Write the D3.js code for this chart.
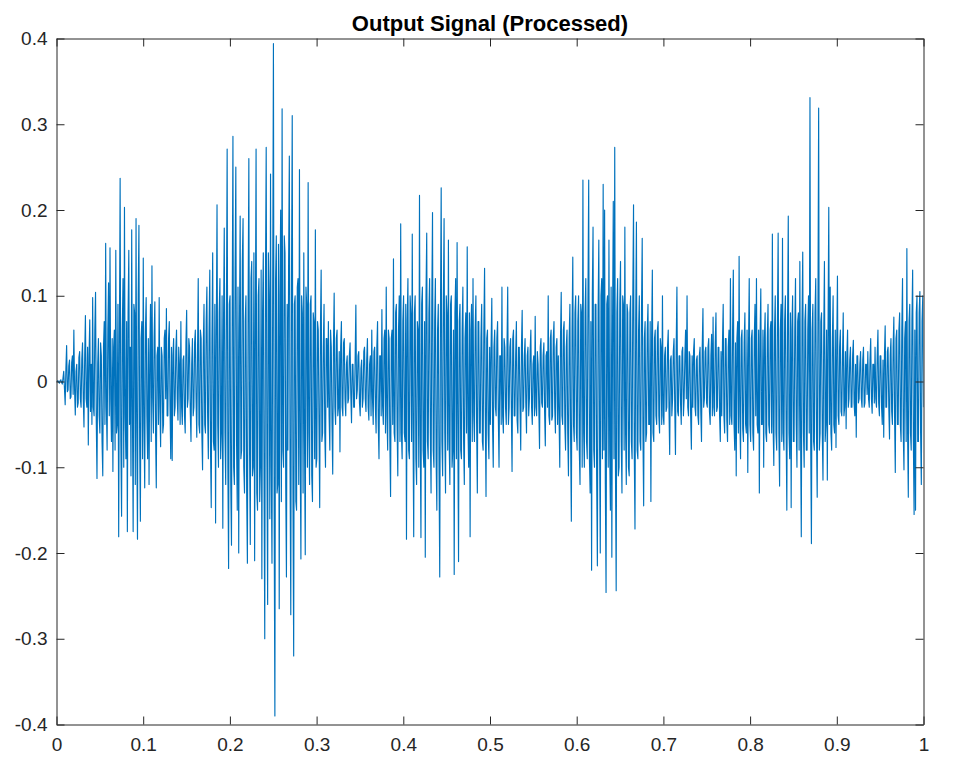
<!DOCTYPE html>
<html>
<head>
<meta charset="utf-8">
<script src="https://cdn.jsdelivr.net/npm/d3@7"></script>
<style>
  html, body { margin: 0; padding: 0; background: #fff; }
  svg { display: block; }
  text { font-family: "Liberation Sans", Arial, Helvetica, sans-serif; }
</style>
</head>
<body>
<div id="chart"></div>
<script>
// ---- data ----
const chartTitle = "Output Signal (Processed)";
const xTicks = [0, 0.1, 0.2, 0.3, 0.4, 0.5, 0.6, 0.7, 0.8, 0.9, 1];
const xTickLabels = ["0", "0.1", "0.2", "0.3", "0.4", "0.5", "0.6", "0.7", "0.8", "0.9", "1"];
const yTicks = [-0.4, -0.3, -0.2, -0.1, 0, 0.1, 0.2, 0.3, 0.4];
const yTickLabels = ["-0.4", "-0.3", "-0.2", "-0.1", "0", "0.1", "0.2", "0.3", "0.4"];
const timeStart = 0, timeEnd = 1;
// signal samples, evenly spaced from timeStart to timeEnd
const signal = [
  0,0, .001,-.001, -.002,.001, .002,-.001, -.003,.004, .012,-.008, -.027,.015, .042,-.012, -.01,.018, .025,-.02, -.018,.022, .03,-.015, .06,-.01, -.039,.012, .02,-.03, -.025,.028, .035,-.02, -.03,.026, .045,-.02, -.053,.03,
  .077,-.02, -.03,.04, -.074,.03, .072,-.035, .02,-.05, .098,-.03, -.04,.06, .104,-.045, -.113,.02, .05,-.04, -.06,.045, .03,-.07, -.11,.04, .07,-.05, .161,-.03, -.08,.06, .115,-.04, .156,-.02, -.07,.05, -.105,.04,
  .06,-.08, .153,-.06, -.05,.09, -.181,.05, .237,-.07, -.157,.06, .12,-.1, .203,-.04, -.09,.07, -.175,.08, .153,-.05, .04,-.11, .177,-.03, -.175,.09, .08,-.12, .19,-.06, -.184,.1, .182,-.07, -.163,.05, .07,-.09,
  .144,-.05, -.124,.06, .098,-.04, -.09,.05, -.12,.03, .09,-.07, .135,-.02, -.06,.05, .093,-.06, -.124,.03, .04,-.05, .098,-.03, -.076,.04, .03,-.06, -.05,.05, .06,-.02, .085,-.04, -.04,.05, .07,-.03, -.09,.04,
  -.092,.03, .05,-.04, -.03,.035, .06,-.02, -.045,.04, .02,-.05, .07,-.03, -.05,.025, .03,-.04, -.06,.045, .083,-.03, -.02,.05, .04,-.035, -.07,.02, .05,-.04, -.03,.045, .06,-.02, -.065,.03, .12,-.05, -.06,.06,
  .05,-.06, -.103,.04, .09,-.05, -.06,.07, .11,-.04, -.09,.06, .13,-.08, -.147,.05, .15,-.07, -.08,.09, -.165,.06, .206,-.05, -.1,.08, .12,-.09, -.06,.1, -.171,.07, .179,-.06, -.12,.08, .271,-.1, -.218,.09,
  .1,-.12, -.191,.08, .286,-.1, -.12,.13, .25,-.07, -.15,.11, -.2,.06, .193,-.09, -.08,.14, .19,-.1, -.13,.07, .1,-.13, -.212,.09, .26,-.08, -.19,.12, .14,-.11, -.1,.15, -.209,.06, .271,-.13, -.15,.1,
  .12,-.14, -.1,.13, -.23,.08, .15,-.11, -.30,.12, .273,-.09, -.26,.15, .1,-.16, .242,-.1, -.212,.11, .394,-.15, -.39,.12, .17,-.13, -.12,.16, -.265,.1, .2,-.14, .318,-.08, -.1,.17, .15,-.12, -.228,.09,
  -.08,.14, .263,-.1, -.272,.12, .31,-.13, -.32,.09, .1,-.14, -.15,.11, .12,-.12, .247,-.08, -.207,.1, .08,-.13, .15,-.07, -.202,.11, .09,-.1, .232,-.06, -.12,.09, .1,-.11, -.14,.08, .07,-.09, .177,-.1,
  -.09,.07, .06,-.05, -.147,.06, .13,-.07, -.06,.04, .09,-.06, -.1,.05, .05,-.03, .07,-.04, -.08,.06, .04,-.05, -.108,.04, .103,-.03, -.05,.05, .06,-.04, -.03,.035, -.082,.04, .07,-.03, -.04,.045, .05,-.02,
  -.04,.02, .03,-.025, -.02,.03, .045,-.015, -.048,.02, .02,-.03, -.03,.025, .089,-.02, -.01,.03, .035,-.025, -.04,.015, .025,-.03, -.02,.035, .04,-.02, -.035,.025, .05,-.03, -.045,.02, .03,-.04, .06,-.02, -.05,.035,
  .04,-.03, -.06,.04, .07,-.05, -.09,.03, .03,-.04, .084,-.03, -.05,.05, .06,-.06, .11,-.04, -.08,.06, .05,-.07, -.134,.05, .06,-.05, .143,-.06, -.07,.08, .09,-.05, -.11,.06, .1,-.07, .184,-.06, -.09,.07,
  .1,-.06, -.07,.09, -.184,.07, .12,-.08, -.09,.1, .08,-.07, .172,-.05, -.181,.08, .1,-.09, -.12,.07, .06,-.1, .217,-.06, -.182,.09, .11,-.08, -.1,.07, -.205,.1, .173,-.07, -.09,.08, .12,-.06, -.13,.09,
  .197,-.08, -.1,.07, .12,-.09, -.15,.06, .09,-.1, -.228,.08, .226,-.07, -.11,.09, .19,-.06, -.13,.1, .08,-.08, .165,-.07, -.12,.09, .1,-.1, -.08,.06, -.225,.08, .12,-.09, .162,-.05, -.21,.07, .09,-.08,
  -.09,.06, .11,-.07, -.12,.05, .08,-.06, .157,-.05, -.1,.08, -.181,.06, .09,-.07, .12,-.04, -.07,.06, .1,-.05, -.13,.07, .07,-.06, -.06,.05, .09,-.07, -.08,.06, .132,-.04, -.134,.05, .06,-.06, -.09,.04,
  -.05,.04, .097,-.05, -.1,.04, .06,-.03, -.04,.05, .07,-.04, -.1,.03, .03,-.05, .11,-.04, -.06,.05, .04,-.03, -.05,.04, .11,-.05, -.03,.04, .05,-.03, -.105,.05, .06,-.04, -.04,.03, .07,-.045, -.06,.04,
  .04,-.03, -.08,.04, .083,-.035, -.03,.03, .05,-.025, -.06,.03, .04,-.04, -.02,.035, .06,-.03, -.05,.02, .03,-.04, .076,-.03, -.04,.035, .02,-.03, -.078,.04, .05,-.025, -.03,.03, .045,-.035, -.075,.03, .035,-.03,
  .1,-.04, -.05,.05, .06,-.045, -.04,.05, .07,-.03, -.06,.04, .05,-.05, .03,-.04, -.1,.05, .104,-.04, -.05,.06, .07,-.05, -.08,.04, .06,-.06, -.11,.05, .09,-.07, -.163,.06, .145,-.05, -.07,.08, .1,-.06,
  -.08,.07, .1,-.08, -.12,.09, .08,-.1, .235,-.06, -.1,.08, .12,-.07, -.09,.1, .235,-.09, -.13,.07, -.22,.1, .18,-.08, -.1,.09, .09,-.11, -.215,.08, .165,-.07, -.2,.1, .12,-.09, .23,-.08, .2,-.12,
  -.246,.09, .1,-.1, .165,-.08, -.15,.11, -.205,.07, .21,-.09, .273,-.1, -.244,.08, .12,-.11, -.1,.09, .14,-.07, -.13,.1, .09,-.08, .18,-.06, -.12,.09, .08,-.1, -.11,.08, .1,-.07, -.09,.1, .206,-.08,
  -.172,.07, .186,-.08, -.09,.06, .1,-.07, -.08,.08, .167,-.06, -.145,.05, .07,-.07, -.06,.06, .09,-.05, -.05,.07, -.14,.05, .13,-.06, -.07,.05, .06,-.04, -.05,.06, .07,-.04, -.06,.05, .04,-.05, .1,-.04,
  -.05,.03, .04,-.035, -.03,.04, .06,-.03, -.085,.025, .03,-.04, -.02,.035, .05,-.03, -.085,.04, .11,-.035, -.04,.03, .03,-.025, -.05,.035, .04,-.04, -.02,.03, .06,-.02, .1,-.03, -.04,.035, .03,-.04, -.079,.03,
  -.03,.035, .05,-.03, -.04,.025, .03,-.04, -.05,.03, .04,-.035, -.07,.04, .085,-.03, -.02,.035, .04,-.025, -.03,.04, .05,-.035, -.05,.03, .055,-.04, .075,-.03, -.04,.045, .08,-.035, -.03,.04, .04,-.04, -.07,.035,
  -.04,.045, .09,-.04, -.06,.05, .05,-.045, -.07,.04, .06,-.05, .12,-.04, -.05,.06, .13,-.05, -.08,.045, -.11,.05, .07,-.06, .146,-.04, -.09,.05, .06,-.055, -.07,.045, .08,-.05, -.06,.06, -.106,.04, .12,-.05,
  -.07,.05, .06,-.06, -.08,.05, .09,-.04, .12,-.05, -.06,.06, -.13,.05, .108,-.05, -.05,.06, -.1,.05, .08,-.06, -.07,.05, .09,-.05, -.06,.06, .07,-.06, .172,-.05, -.098,.06, .1,-.06, -.08,.07, .173,-.06,
  -.122,.06, .09,-.07, .167,-.06, -.08,.07, .1,-.05, -.15,.07, .193,-.06, -.09,.08, -.147,.06, .1,-.07, -.07,.06, .12,-.05, -.1,.07, .08,-.08, .14,-.06, -.181,.07, .151,-.06, -.1,.07, .09,-.08, -.08,.06,
  .1,-.06, .331,-.07, -.189,.06, .09,-.07, -.08,.08, .12,-.06, -.135,.07, .319,-.08, -.06,.07, .08,-.06, -.115,.05, .14,-.07, -.05,.06, -.115,.06, .203,-.05, .11,-.06, -.08,.05, .1,-.05, -.06,.06, -.077,.04,
  .123,-.04, -.05,.04, .06,-.035, -.04,.03, .08,-.04, -.03,.035, -.055,.03, .06,-.03, -.02,.025, .04,-.03, -.03,.03, .048,-.025, -.04,.02, -.065,.03, .03,-.025, -.02,.02, .035,-.02, -.03,.025, .04,-.03, -.025,.02,
  .02,-.015, .035,-.02, -.03,.025, .05,-.02, -.037,.02, .02,-.025, .04,-.02, -.03,.03, .06,-.025, -.04,.03, .03,-.03, -.05,.025, -.065,.03, .065,-.03, -.03,.035, .04,-.03, -.067,.03, .05,-.035, -.05,.04, .075,-.04,
  -.106,.05, .06,-.05, -.05,.06, .08,-.05, -.07,.06, .12,-.06, -.103,.05, .07,-.07, .155,-.06, -.135,.07, .09,-.06, -.08,.07, .13,-.07, -.155,.06, -.15,.08, .1,-.07, -.07,.08, .105,-.06, -.12,.07, .1,-.03
];

// ---- layout ----
const W = 954, H = 776;
const margin = { left: 56.5, right: 954 - 923.5, top: 38.5, bottom: 776 - 724.5 };
const iw = W - margin.left - margin.right;
const ih = H - margin.top - margin.bottom;
const axisColor = "#262626";
const lineColor = "#0072BD";
const fontStack = '"Liberation Sans", Arial, Helvetica, sans-serif';

const svg = d3.select("#chart").append("svg").attr("width", W).attr("height", H);

const x = d3.scaleLinear().domain([timeStart, timeEnd]).range([0, iw]);
const y = d3.scaleLinear().domain([-0.4, 0.4]).range([ih, 0]);

const g = svg.append("g").attr("transform", `translate(${margin.left},${margin.top})`);

const n = signal.length;
const points = signal.map((v, i) => ({ t: timeStart + (timeEnd - timeStart) * i / (n - 1), v }));

g.append("defs").append("clipPath").attr("id", "clip")
  .append("rect").attr("x", 0).attr("y", 0).attr("width", iw).attr("height", ih);

g.append("path")
  .datum(points)
  .attr("clip-path", "url(#clip)")
  .attr("fill", "none")
  .attr("stroke", lineColor)
  .attr("stroke-width", 1.15)
  .attr("stroke-linejoin", "round")
  .attr("d", d3.line().x(d => x(d.t)).y(d => y(d.v)));

const tickLen = 8;
const xAxis = d3.axisBottom(x).tickValues(xTicks).tickFormat((d, i) => xTickLabels[i])
  .tickSizeInner(-tickLen).tickSizeOuter(0).tickPadding(13);
const gx = g.append("g").attr("transform", `translate(0,${ih})`).call(xAxis);
const gxt = g.append("g").call(d3.axisTop(x).tickValues(xTicks).tickFormat("").tickSizeInner(-tickLen).tickSizeOuter(0));
const yAxis = d3.axisLeft(y).tickValues(yTicks).tickFormat((d, i) => yTickLabels[i])
  .tickSizeInner(-tickLen).tickSizeOuter(0).tickPadding(9);
const gy = g.append("g").call(yAxis);
const gyr = g.append("g").attr("transform", `translate(${iw},0)`)
  .call(d3.axisRight(y).tickValues(yTicks).tickFormat("").tickSizeInner(-tickLen).tickSizeOuter(0));

[gx, gxt, gy, gyr].forEach(a => {
  a.select(".domain").attr("stroke", axisColor).attr("stroke-width", 1);
  a.selectAll(".tick line").attr("stroke", axisColor).attr("stroke-width", 1);
  a.selectAll("text").attr("fill", axisColor).style("font-size", "19px").style("font-family", fontStack);
});
gx.selectAll("text").attr("dy", "0.71em");

svg.append("text")
  .attr("x", margin.left + iw / 2)
  .attr("y", 31)
  .attr("text-anchor", "middle")
  .attr("fill", "#000")
  .style("font-family", fontStack)
  .style("font-size", "22px")
  .style("font-weight", "bold")
  .text(chartTitle);
</script>
</body>
</html>
